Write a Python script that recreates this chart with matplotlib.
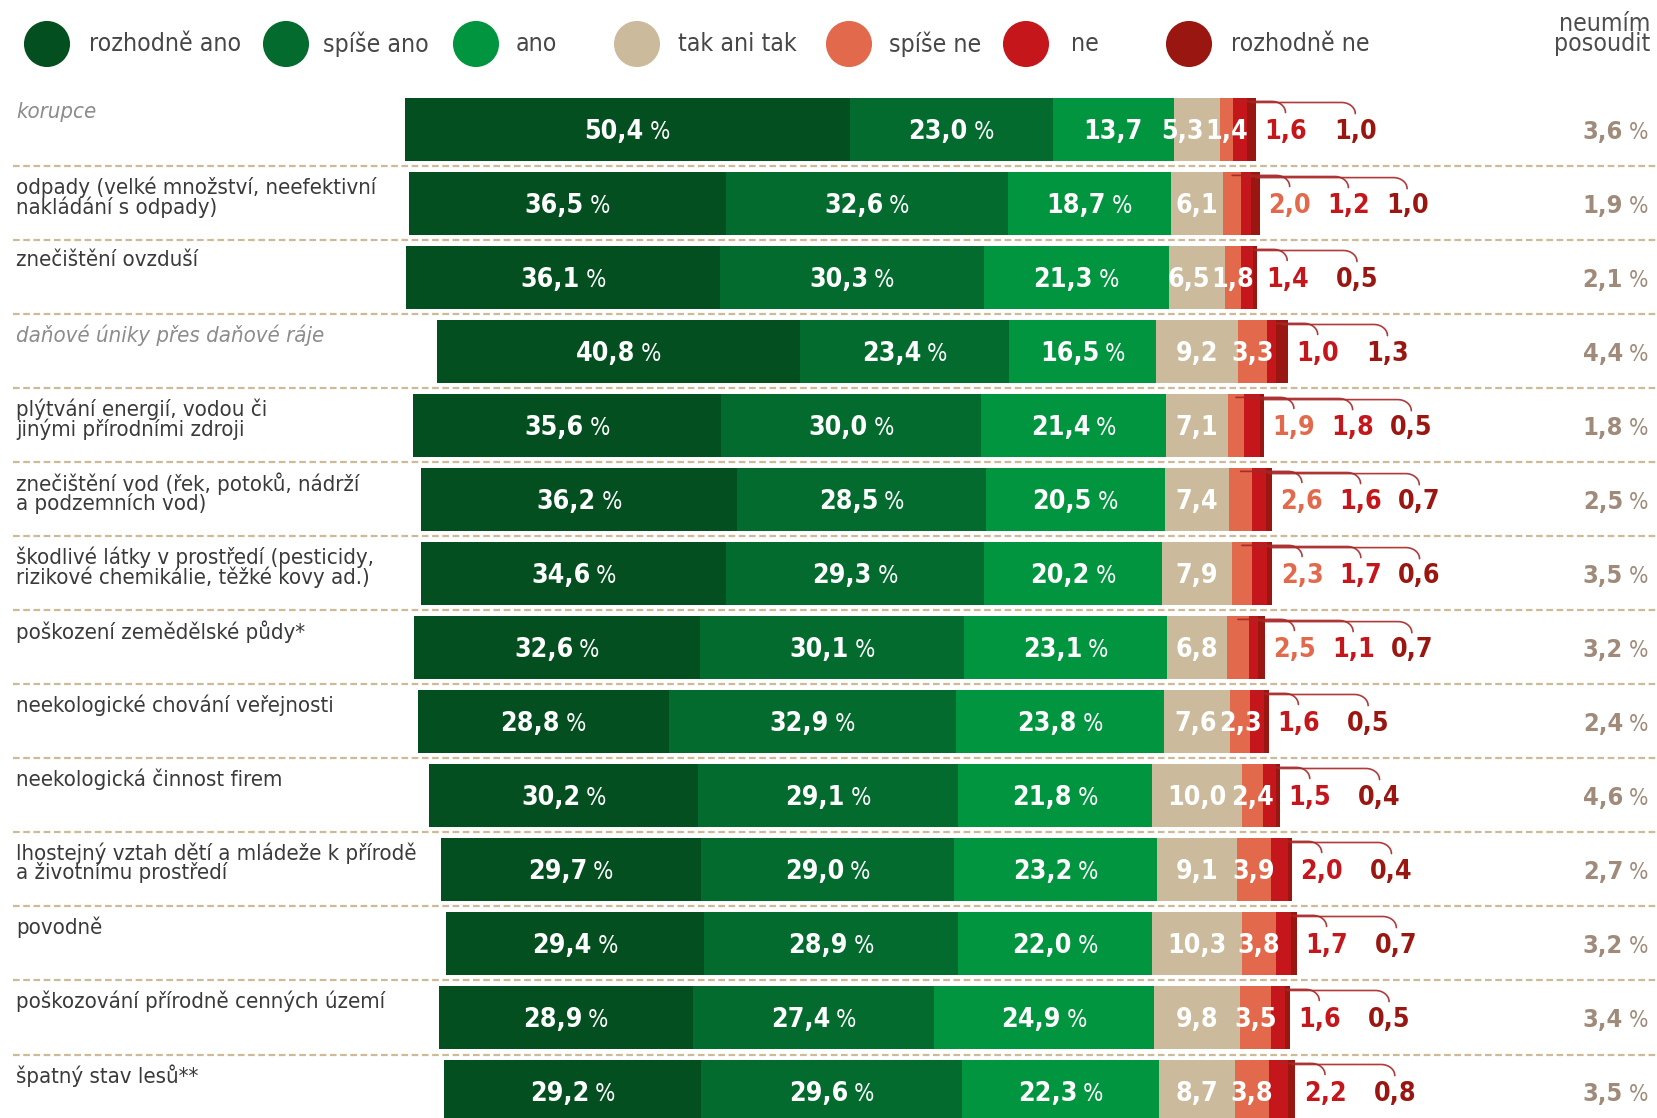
import numpy as np
import matplotlib
matplotlib.use("Agg")
from matplotlib import pyplot as plt
from matplotlib import font_manager as fm

# survey answers in %, one entry per problem (top to bottom)
categories = [
    "korupce",
    "odpady (velké množství, neefektivní\nnakládání s odpady)",
    "znečištění ovzduší",
    "daňové úniky přes daňové ráje",
    "plýtvání energií, vodou či\njinými přírodními zdroji",
    "znečištění vod (řek, potoků, nádrží\na podzemních vod)",
    "škodlivé látky v prostředí (pesticidy,\nrizikové chemikálie, těžké kovy ad.)",
    "poškození zemědělské půdy*",
    "neekologické chování veřejnosti",
    "neekologická činnost firem",
    "lhostejný vztah dětí a mládeže k přírodě\na životnímu prostředí",
    "povodně",
    "poškozování přírodně cenných území",
    "špatný stav lesů**",
]
rozhodne_ano = [50.4, 36.5, 36.1, 40.8, 35.6, 36.2, 34.6, 32.6, 28.8, 30.2, 29.7, 29.4, 28.9, 29.2]
spise_ano = [23.0, 32.6, 30.3, 23.4, 30.0, 28.5, 29.3, 30.1, 32.9, 29.1, 29.0, 28.9, 27.4, 29.6]
ano = [13.7, 18.7, 21.3, 16.5, 21.4, 20.5, 20.2, 23.1, 23.8, 21.8, 23.2, 22.0, 24.9, 22.3]
tak_ani_tak = [5.3, 6.1, 6.5, 9.2, 7.1, 7.4, 7.9, 6.8, 7.6, 10.0, 9.1, 10.3, 9.8, 8.7]
spise_ne = [1.4, 2.0, 1.8, 3.3, 1.9, 2.6, 2.3, 2.5, 2.3, 2.4, 3.9, 3.8, 3.5, 3.8]
ne = [1.6, 1.2, 1.4, 1.0, 1.8, 1.6, 1.7, 1.1, 1.6, 1.5, 2.0, 1.7, 1.6, 2.2]
rozhodne_ne = [1.0, 1.0, 0.5, 1.3, 0.5, 0.7, 0.6, 0.7, 0.5, 0.4, 0.4, 0.7, 0.5, 0.8]
neumim = [3.6, 1.9, 2.1, 4.4, 1.8, 2.5, 3.5, 3.2, 2.4, 4.6, 2.7, 3.2, 3.4, 3.5]

legend_labels = ["rozhodně ano", "spíše ano", "ano", "tak ani tak", "spíše ne", "ne", "rozhodně ne"]
colors = ["#034f20", "#046b2e", "#02953f", "#cbbb9c", "#e2694b", "#c5161b", "#9a1711"]
label_colors = ["#e2694b", "#c5161b", "#9a1711"]  # outside labels: spíše ne, ne, rozhodně ne

# styling per row
italic_rows = [0, 3]
spise_ne_outside = [False, True, False, False, True, True, True, True, False, False, False, False, False, False]

# pick a narrow font if there is one
ttf = fm.fontManager.ttflist
names = {f.name for f in ttf}
if "Liberation Sans Narrow" in names:
    FONT = dict(family="Liberation Sans Narrow")
elif "DejaVu Sans Condensed" in names:
    FONT = dict(family="DejaVu Sans Condensed")
elif any(f.name == "DejaVu Sans" and "condensed" in str(f.stretch) for f in ttf):
    FONT = dict(family="DejaVu Sans", fontstretch="condensed")
else:
    FONT = dict(family="DejaVu Sans")

W, H = 1657, 1118
fig = plt.figure(figsize=(W / 100, H / 100), dpi=100)
ax = fig.add_axes([0, 0, 1, 1])
ax.axis("off")
renderer = fig.canvas.get_renderer()

# pixel layout -> data units (x in %, y in rows)
X0, SX = 1197, 8.51
Y0, SY = 129.5, 74.0
def px_x(p):
    return (p - X0) / SX
def px_y(p):
    return (p - Y0) / SY

ax.set_xlim(px_x(0), px_x(W))
ax.set_ylim(px_y(H), px_y(0))


def text_width(s, size, **kw):
    t = fig.text(0, 0, s, fontsize=size, **FONT, **kw)
    w = t.get_window_extent(renderer).width
    t.remove()
    return w


def fit(s, target, cap, **kw):
    return min(cap, 20 * target / text_width(s, 20, **kw))


val_size = fit("50,4", 59, 27, weight="bold")
cat_size = fit("lhostejný vztah dětí a mládeže k přírodě", 402, 22)
leg_size = fit("rozhodně ano", 152, 30)


def fmt(v):
    return f"{v:.1f}".replace(".", ",")


def value_label(x, y, v, color, size, pct=True, ha="center"):
    """number in bold (+ lighter % sign); returns texts and their px extent"""
    base = y + 0.36 * size * 1.389 / SY
    t1 = ax.text(x, base, fmt(v), color=color, fontsize=size, weight="bold",
                 va="baseline", ha="left", **FONT)
    texts = [t1]
    w1 = t1.get_window_extent(renderer).width
    w2, gap = 0, 0
    if pct:
        t2 = ax.text(x, base, "%", color=color, fontsize=size * 0.9,
                     va="baseline", ha="left", **FONT)
        texts.append(t2)
        w2 = t2.get_window_extent(renderer).width
        gap = size * 0.3
    total = w1 + gap + w2
    xp = ax.transData.transform((x, base))[0]
    left = xp - total / 2 if ha == "center" else xp - total
    t1.set_x(px_x(left))
    if pct:
        t2.set_x(px_x(left + w1 + gap))
    return texts, left, left + total


def shift(texts, dx):
    for t in texts:
        t.set_x(t.get_position()[0] + dx / SX)


data = np.array([rozhodne_ano, spise_ano, ano, tak_ani_tak, spise_ne, ne, rozhodne_ne])
shares = data / data.sum(axis=0) * 100
offset = shares[:3].sum(axis=0) + shares[3] / 2
lefts = np.vstack([np.zeros(len(categories)), np.cumsum(shares, axis=0)[:-1]]) - offset
y = np.arange(len(categories))

bar_h = 0.85
for k in range(7):
    ax.barh(y, shares[k], left=lefts[k], height=bar_h, color=colors[k], linewidth=0)

# separators
for i in range(len(categories) - 1):
    ax.plot([px_x(13), px_x(W)], [i + 0.5, i + 0.5], color="#cdbb98", lw=1.6,
            ls=(0, (3, 1.6)), solid_capstyle="butt")

for i in range(len(categories)):
    # category label
    ital = i in italic_rows
    ax.text(px_x(16), i - 0.37, categories[i], ha="left", va="top", fontsize=cat_size,
            color="#8c8c8c" if ital else "#3a3a3a", style="italic" if ital else "normal",
            linespacing=0.92, **FONT)

    # values inside the bar
    inside = [0, 1, 2, 3] + ([] if spise_ne_outside[i] else [4])
    placed = {}
    for k in inside:
        cx = lefts[k, i] + shares[k, i] / 2
        placed[k] = value_label(cx, i, data[k, i], "white", val_size,
                                pct=(k < 3 and shares[k, i] > 15))
    # narrow neighbours: push the neutral label left so they do not collide
    if 4 in placed:
        over = placed[3][2] - placed[4][1] + 2
        if over > 0:
            shift(placed[3][0], -over)

    # small values outside with leader lines
    outside = ([4] if spise_ne_outside[i] else []) + [5, 6]
    end = lefts[6, i] + shares[6, i]
    step = 6.9 if len(outside) == 3 else 8.2
    for n, k in enumerate(outside):
        lx = end + 3.5 + n * step
        value_label(lx, i, data[k, i], label_colors[k - 4], val_size, pct=False)
        x_start = lefts[k, i] + shares[k, i] / 2
        yh = i - 0.38 + n * 0.015
        rx, ry = 1.6, 0.15
        th = np.linspace(0, np.pi / 2, 12)
        xs = np.concatenate([[x_start], lx - rx + rx * np.sin(th)])
        ys = np.concatenate([[yh], yh + ry * (1 - np.cos(th))])
        ax.plot(xs, ys, color="#a82626", lw=1.2, solid_capstyle="round", alpha=0.9)

    # neumím posoudit
    value_label(px_x(1648), i, neumim[i], "#a08b7b", val_size * 0.95, pct=True, ha="right")

# header of the right column
ax.text(px_x(1650), px_y(12), "neumím\nposoudit", ha="right", va="top", color="#4d4d4d",
        fontsize=leg_size * 1.0, linespacing=0.8, **FONT)

# legend
leg_circle_px = [47, 286, 476, 637, 849, 1026, 1189]
leg_text_px = [89, 323, 516, 678, 889, 1071, 1231]
ax.scatter([px_x(p) for p in leg_circle_px], [px_y(44)] * 7, s=1100, c=colors,
           linewidths=0, clip_on=False)
for lab, p in zip(legend_labels, leg_text_px):
    ax.text(px_x(p), px_y(44), lab, ha="left", va="center", fontsize=leg_size,
            color="#474747", **FONT)

fig.savefig("out.png", dpi=100)
